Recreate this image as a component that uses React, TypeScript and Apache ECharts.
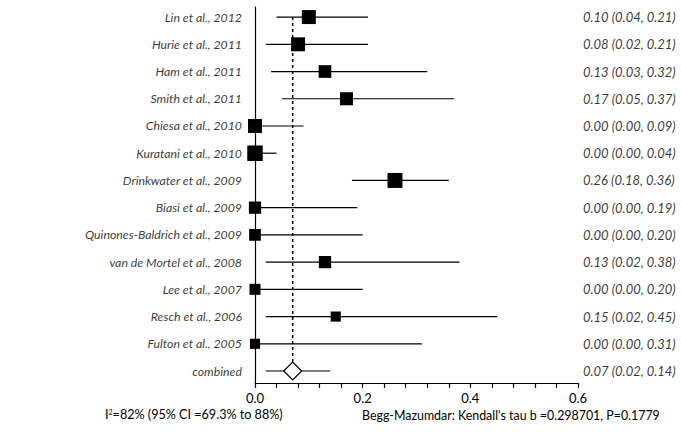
import React, { useEffect, useRef } from "react";
import * as echarts from "echarts";

const studies = [
  "Lin et al., 2012",
  "Hurie et al., 2011",
  "Ham et al., 2011",
  "Smith et al., 2011",
  "Chiesa et al., 2010",
  "Kuratani et al., 2010",
  "Drinkwater et al., 2009",
  "Biasi et al., 2009",
  "Quinones-Baldrich et al., 2009",
  "van de Mortel et al., 2008",
  "Lee et al., 2007",
  "Resch et al., 2006",
  "Fulton et al., 2005",
];
const estimates = [0.1, 0.08, 0.13, 0.17, 0.0, 0.0, 0.26, 0.0, 0.0, 0.13, 0.0, 0.15, 0.0];
const lowerCI = [0.04, 0.02, 0.03, 0.05, 0.0, 0.0, 0.18, 0.0, 0.0, 0.02, 0.0, 0.02, 0.0];
const upperCI = [0.21, 0.21, 0.32, 0.37, 0.09, 0.04, 0.36, 0.19, 0.2, 0.38, 0.2, 0.45, 0.31];
const weights = [12.2, 12.2, 10, 10.6, 12.2, 15, 14, 9.4, 8.6, 9.4, 7.6, 6.4, 6.4];

const combinedLabel = "combined";
const combinedEstimate = 0.07;
const combinedLower = 0.02;
const combinedUpper = 0.14;

const xTicks = [0, 0.2, 0.4, 0.6];
const heterogeneityText = "=82% (95% CI =69.3% to 88%)";
const biasText = "Begg-Mazumdar: Kendall's tau b =0.298701, P=0.1779";

const fmt = (v: number) => v.toFixed(2);

export default function App() {
  const ref = useRef<HTMLDivElement>(null);
  useEffect(() => {
    if (!ref.current) return;
    document.body.style.margin = "0";
    const chart = echarts.init(ref.current, null, { renderer: "svg" });
    const font = "Lato, 'Open Sans', sans-serif";
    const n = studies.length;
    const studyData = studies.map((_, i) => [estimates[i], i, lowerCI[i], upperCI[i], weights[i]]);
    const allNames = [...studies, combinedLabel];
    const allText = [
      ...studies.map((_, i) => `${fmt(estimates[i])} (${fmt(lowerCI[i])}, ${fmt(upperCI[i])})`),
      `${fmt(combinedEstimate)} (${fmt(combinedLower)}, ${fmt(combinedUpper)})`,
    ];
    const half = 9;
    chart.setOption({
      animation: false,
      grid: { left: 255, right: 103, top: 7, bottom: 49 },
      xAxis: {
        type: "value",
        min: xTicks[0],
        max: xTicks[xTicks.length - 1],
        interval: 0.2,
        axisLine: { show: true, onZero: false, lineStyle: { color: "#000", width: 1.2 } },
        axisTick: { show: true, length: 5, lineStyle: { color: "#000", width: 1.2 } },
        minorTick: { show: true, splitNumber: 5, length: 5, lineStyle: { color: "#000", width: 1.2 } },
        splitLine: { show: false },
        axisLabel: {
          color: "#000",
          fontFamily: font,
          fontSize: 13,
          margin: 8,
          formatter: (v: number) => v.toFixed(1),
        },
      },
      yAxis: {
        type: "value",
        inverse: true,
        min: -0.37,
        max: n + 0.44,
        axisLine: { show: true, lineStyle: { color: "#000", width: 1.2 } },
        axisTick: { show: false },
        axisLabel: { show: false },
        splitLine: { show: false },
      },
      series: [
        {
          type: "custom",
          data: studyData,
          renderItem: (params: any, api: any) => {
            const y = api.value(1);
            const c = api.coord([api.value(0), y]);
            const l = api.coord([api.value(2), y]);
            const h = api.coord([api.value(3), y]);
            const s = 4 * Math.sqrt(api.value(4));
            return {
              type: "group",
              children: [
                {
                  type: "line",
                  shape: { x1: l[0], y1: c[1], x2: h[0], y2: c[1] },
                  style: { stroke: "#000", lineWidth: 1.2 },
                },
                {
                  type: "rect",
                  shape: { x: c[0] - s / 2, y: c[1] - s / 2, width: s, height: s },
                  style: { fill: "#000" },
                },
              ],
            };
          },
        },
        {
          type: "custom",
          data: [[combinedEstimate, n, combinedLower, combinedUpper]],
          z: 1,
          renderItem: (params: any, api: any) => {
            const y = api.value(1);
            const c = api.coord([api.value(0), y]);
            const l = api.coord([api.value(2), y]);
            const h = api.coord([api.value(3), y]);
            const top = api.coord([api.value(0), 0]);
            return {
              type: "group",
              children: [
                {
                  type: "line",
                  shape: { x1: c[0], y1: top[1], x2: c[0], y2: c[1] - half },
                  style: { stroke: "#000", lineWidth: 1.5, lineDash: [3, 3] },
                },
                {
                  type: "line",
                  shape: { x1: l[0], y1: c[1], x2: h[0], y2: c[1] },
                  style: { stroke: "#000", lineWidth: 1.2 },
                },
                {
                  type: "polygon",
                  shape: {
                    points: [
                      [c[0] - half, c[1]],
                      [c[0], c[1] - half],
                      [c[0] + half, c[1]],
                      [c[0], c[1] + half],
                    ],
                  },
                  style: { fill: "#fff", stroke: "#000", lineWidth: 1.2 },
                },
              ],
            };
          },
        },
        {
          type: "scatter",
          symbolSize: 0,
          silent: true,
          data: allNames.map((name, i) => ({ value: [0, i], name })),
          label: {
            show: true,
            position: "left",
            distance: 13,
            color: "#000",
            fontFamily: font,
            fontStyle: "italic",
            fontSize: 12.3,
            formatter: (p: any) => p.name,
          },
        },
        {
          type: "scatter",
          symbolSize: 0,
          silent: true,
          data: allText.map((t, i) => ({ value: [xTicks[xTicks.length - 1], i], name: t })),
          label: {
            show: true,
            position: "right",
            distance: 5,
            color: "#000",
            fontFamily: font,
            fontStyle: "italic",
            fontSize: 13,
            formatter: (p: any) => p.name,
          },
        },
      ],
      graphic: [
        {
          type: "text",
          left: 105,
          top: 408,
          style: {
            text: "I{sup|2}" + heterogeneityText,
            fill: "#000",
            font: `12.6px ${font}`,
            rich: {
              sup: { fontSize: 7, verticalAlign: "top", padding: [0, 0, 6, 0], fontFamily: font },
            },
          },
        },
        {
          type: "text",
          left: 362,
          top: 409,
          style: { text: biasText, fill: "#000", font: `12.4px ${font}` },
        },
      ],
    });
    return () => chart.dispose();
  }, []);
  return <div ref={ref} style={{ width: 681, height: 432 }} />;
}
